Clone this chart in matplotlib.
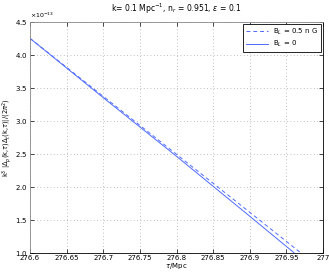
import matplotlib.pyplot as plt
from matplotlib.ticker import ScalarFormatter

tau_b05 = [276.6, 276.7, 276.8, 276.9, 276.969]
amp_b05 = [4.25, 3.37, 2.49, 1.61, 1.0]
tau_b0 = [276.6, 276.7, 276.8, 276.9, 276.960]
amp_b0 = [4.25, 3.35, 2.46, 1.55, 1.0]

xticks = [276.6, 276.65, 276.7, 276.75, 276.8, 276.85, 276.9, 276.95, 277]
yticks = [1, 1.5, 2, 2.5, 3, 3.5, 4, 4.5]

plt.rcParams['font.size'] = 5
plt.rcParams['font.family'] = 'DejaVu Sans'

fig = plt.figure(figsize=(3.29, 2.73), dpi=100)
ax = fig.add_axes([0.091, 0.075, 0.891, 0.845])

line_col = '#4f6bff'
ax.plot(tau_b05, [v * 1e-13 for v in amp_b05], '--', color=line_col, lw=0.7, dashes=(4, 3), label=r'B$_L$ = 0.5 n G')
ax.plot(tau_b0, [v * 1e-13 for v in amp_b0], '-', color=line_col, lw=0.7, label=r'B$_L$ = 0')

ax.set_xlim(276.6, 277)
ax.set_ylim(1e-13, 4.5e-13)
ax.set_xticks(xticks)
ax.set_xticklabels([f'{t:g}' for t in xticks])
ax.set_yticks([v * 1e-13 for v in yticks])
fmt = ScalarFormatter(useMathText=True)
fmt.set_powerlimits((0, 0))
ax.yaxis.set_major_formatter(fmt)
ax.yaxis.get_offset_text().set_fontsize(4.5)

ax.grid(True, linestyle=(0, (1, 3)), color='#aaaaaa', lw=0.6)
ax.tick_params(direction='in', length=3, width=0.5, pad=1.5)
ax.tick_params(top=True, right=True)
for s in ax.spines.values():
    s.set_linewidth(0.6)
ax.spines['left'].set_color('#888888')
ax.spines['top'].set_color('#888888')

ax.set_xlabel(r'$\tau$/Mpc', labelpad=0.5)
ax.set_ylabel(r'k$^3$ |$\Delta_p$(k,$\tau$)$\Delta_t$(k,$\tau$)|/(2$\pi^2$)', labelpad=1, fontsize=4.8)
ax.set_title(r'k= 0.1 Mpc$^{-1}$, n$_r$ = 0.951, $\varepsilon$ = 0.1', fontsize=5.5, pad=7)

leg = ax.legend(loc='upper right', fancybox=False, edgecolor='black', framealpha=1,
                fontsize=5, handlelength=3.2, borderpad=0.4, labelspacing=0.3,
                borderaxespad=0.3)
leg.get_frame().set_linewidth(0.6)

fig.savefig('out.png', dpi=100)
